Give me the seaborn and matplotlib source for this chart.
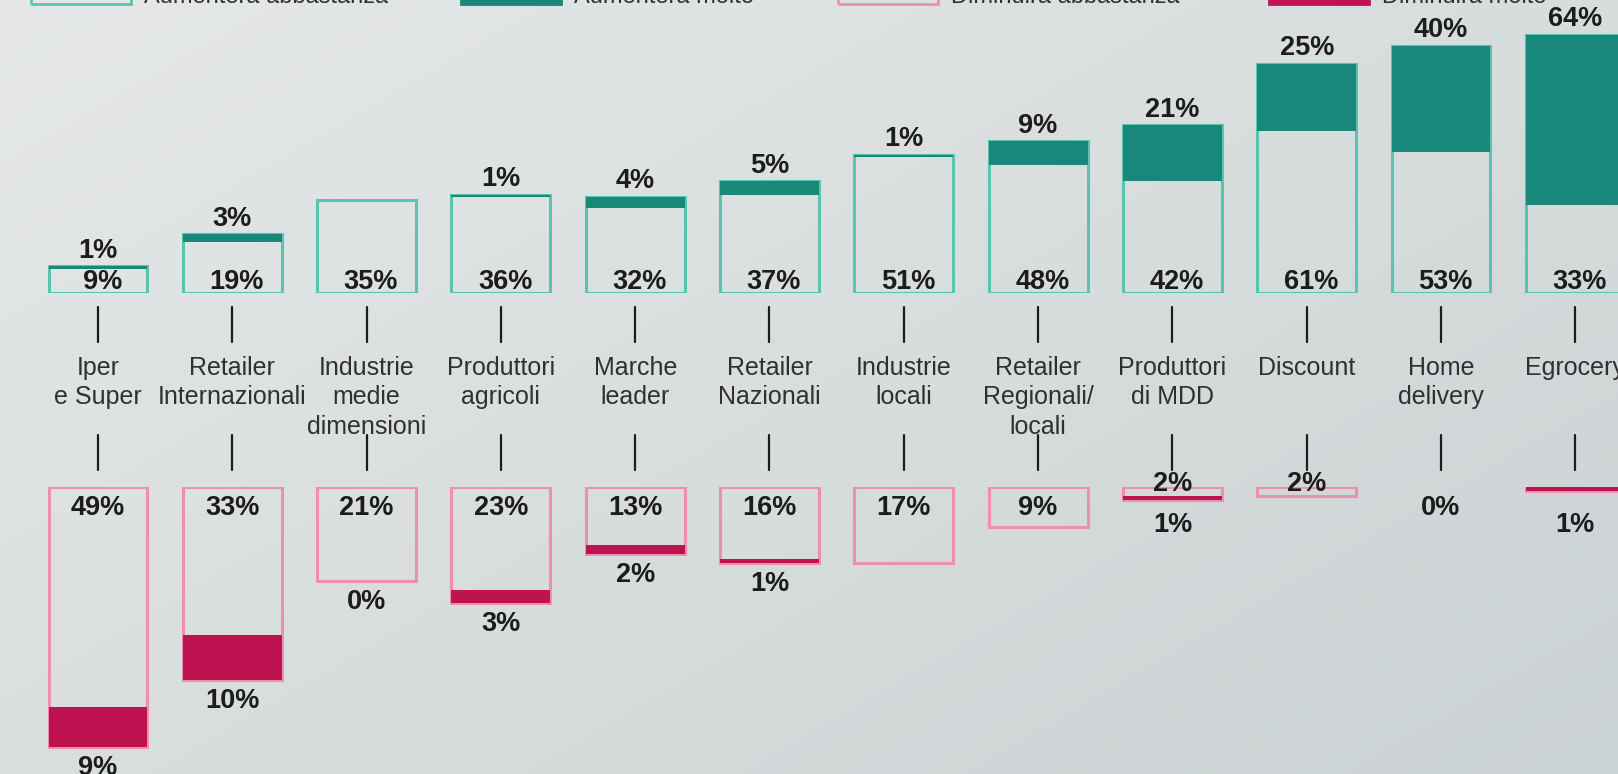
import numpy as np
import pandas as pd
import matplotlib
matplotlib.use("Agg")
import matplotlib.pyplot as plt
from matplotlib.patches import Rectangle
from matplotlib.transforms import blended_transform_factory
import seaborn as sns

# ---- data -------------------------------------------------------------
categories = [
    "Iper\ne Super", "Retailer\nInternazionali", "Industrie\nmedie\ndimensioni",
    "Produttori\nagricoli", "Marche\nleader", "Retailer\nNazionali",
    "Industrie\nlocali", "Retailer\nRegionali/\nlocali", "Produttori\ndi MDD",
    "Discount", "Home\ndelivery", "Egrocery",
]
up_some = [9, 19, 35, 36, 32, 37, 51, 48, 42, 61, 53, 33]
up_much = [1, 3, 0, 1, 4, 5, 1, 9, 21, 25, 40, 64]
down_some = [49, 33, 21, 23, 13, 16, 17, 9, 2, 2, 0, 0]
down_much = [9, 10, 0, 3, 2, 1, 0, 0, 1, 0, 0, 1]
down_some_labels = ["49%", "33%", "21%", "23%", "13%", "16%", "17%", "9%", "2%", "2%", "0%", ""]
down_much_labels = ["9%", "10%", "0%", "3%", "2%", "1%", "", "", "1%", "", "", "1%"]
legend_labels = ["Aumenterà abbastanza", "Aumenterà molto",
                 "Diminuirà abbastanza", "Diminuirà molto"]

# ---- style ------------------------------------------------------------
sns.set_theme(style="white")
plt.rcParams["font.family"] = ["Liberation Sans", "DejaVu Sans"]

TEAL_LINE = "#57c5b0"
TEAL_FILL = "#17887a"
PINK_LINE = "#ee8fab"
PINK_FILL = "#bf1351"
INK = "#1c1c1c"
LABEL_INK = "#303030"
NUM_SIZE = 19.5

W, H = 1618, 774
fig = plt.figure(figsize=(W / 100, H / 100), dpi=100)


def fy(px):
    """Figure fraction for a pixel row measured from the top."""
    return 1 - px / H


# soft grey background, lighter at the top left
bg = fig.add_axes([0, 0, 1, 1], zorder=-5)
gx, gy = np.meshgrid(np.linspace(0, 1, 400), np.linspace(0, 1, 200))
shade = 0.55 * gx + 0.45 * gy
c0 = np.array([230, 232, 232]) / 255
c1 = np.array([203, 210, 211]) / 255
img = c0[None, None, :] * (1 - shade[..., None]) + c1[None, None, :] * shade[..., None]
bg.imshow(img, aspect="auto", extent=[0, 1, 0, 1], origin="upper")
bg.set_axis_off()

n = len(categories)
x = np.arange(n)
bar_w = 0.737
xlim = (-0.7297, 11.318)

up_total = [a + b for a, b in zip(up_some, up_much)]
down_total = [a + b for a, b in zip(down_some, down_much)]

UP_BASE = 293      # pixel row of the upper baseline
UP_SCALE = 2.66    # pixels per percentage point
DN_TOP = 487
DN_SCALE = 4.48

# ---- upper panel: growth ----------------------------------------------
ax_up = fig.add_axes([0, fy(UP_BASE), 1, UP_BASE / H])
ax_up.set_facecolor("none")
df_up = pd.DataFrame({"cat": categories, "total": up_total})
sns.barplot(data=df_up, x="cat", y="total", ax=ax_up, fill=False,
            color=TEAL_LINE, linewidth=2.2, width=bar_w, errorbar=None, zorder=2)
ax_up.bar(x, up_much, bottom=up_some, width=bar_w, color=TEAL_FILL,
          linewidth=0, zorder=3)
ax_up.set_xlim(*xlim)
ax_up.set_ylim(0, UP_BASE / UP_SCALE)
ax_up.set_axis_off()

for i in range(n):
    ax_up.annotate(f"{up_some[i]}%", (x[i], 0), xytext=(3, -1.5),
                   textcoords="offset points", ha="center", va="bottom",
                   fontsize=NUM_SIZE, fontweight="bold", color=INK, zorder=5)
    if up_much[i] > 0:
        ax_up.annotate(f"{up_much[i]}%", (x[i], up_total[i]), xytext=(0, 2),
                       textcoords="offset points", ha="center", va="bottom",
                       fontsize=NUM_SIZE, fontweight="bold", color=INK,
                       annotation_clip=False, zorder=5)

# ---- lower panel: decline ---------------------------------------------
ax_dn = fig.add_axes([0, 0, 1, (H - DN_TOP) / H])
ax_dn.set_facecolor("none")
df_dn = pd.DataFrame({"cat": categories, "total": down_total})
sns.barplot(data=df_dn, x="cat", y="total", ax=ax_dn, fill=False,
            color=PINK_LINE, linewidth=2.2, width=bar_w, errorbar=None, zorder=2)
for patch in ax_dn.patches[:n]:
    if patch.get_height() == 0:
        patch.set_visible(False)
ax_dn.bar(x, down_much, bottom=down_some, width=bar_w, color=PINK_FILL,
          linewidth=0, zorder=3)
ax_dn.set_xlim(*xlim)
ax_dn.set_ylim((H - DN_TOP) / DN_SCALE, 0)
ax_dn.set_axis_off()

for i in range(n):
    lab = down_some_labels[i]
    if lab:
        if 0 < down_some[i] < 5:
            # thin bar: the value sits across its top edge
            ax_dn.annotate(lab, (x[i], 0), xytext=(0, 2.5),
                           textcoords="offset points", ha="center", va="center",
                           fontsize=NUM_SIZE, fontweight="bold", color=INK,
                           annotation_clip=False, zorder=5)
        else:
            ax_dn.annotate(lab, (x[i], 0), xytext=(0, -6),
                           textcoords="offset points", ha="center", va="top",
                           fontsize=NUM_SIZE, fontweight="bold", color=INK,
                           annotation_clip=False, zorder=5)
    if down_much_labels[i]:
        y_lab = max(down_total[i] + 8 / DN_SCALE, 25 / DN_SCALE)
        ax_dn.annotate(down_much_labels[i], (x[i], y_lab),
                       ha="center", va="top", fontsize=NUM_SIZE, fontweight="bold",
                       color=INK, annotation_clip=False, zorder=5)

# ---- category labels and connector ticks ------------------------------
tr = blended_transform_factory(ax_up.transData, fig.transFigure)
for i, name in enumerate(categories):
    fig.lines.append(plt.Line2D([x[i], x[i]], [fy(307), fy(342)],
                                transform=tr, color=INK, lw=1.6))
    fig.lines.append(plt.Line2D([x[i], x[i]], [fy(435), fy(470)],
                                transform=tr, color=INK, lw=1.6))
    fig.text(x[i], fy(356), name, transform=tr, ha="center", va="top",
             fontsize=18, color=LABEL_INK, linespacing=1.28)

# ---- legend strip along the top edge ----------------------------------
legend_x = [31, 461, 838, 1269]
legend_faces = ["none", TEAL_FILL, "none", PINK_FILL]
legend_edges = [TEAL_LINE, TEAL_FILL, PINK_LINE, PINK_FILL]
for lx, fc, ec, lab in zip(legend_x, legend_faces, legend_edges, legend_labels):
    fig.patches.append(Rectangle((lx / W, fy(4)), 100 / W, 24 / H,
                                 transform=fig.transFigure, facecolor=fc,
                                 edgecolor=ec, linewidth=2.0))
    fig.text((lx + 113) / W, fy(3), lab, ha="left", va="baseline",
             fontsize=17, color=LABEL_INK)

fig.savefig("out.png", dpi=100)
